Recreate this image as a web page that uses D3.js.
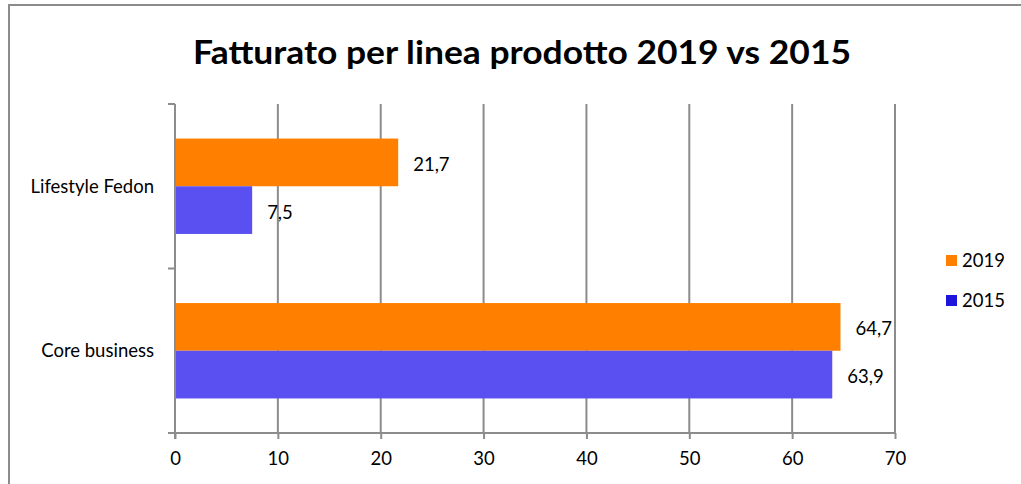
<!DOCTYPE html>
<html>
<head>
<meta charset="utf-8">
<script src="https://cdn.jsdelivr.net/npm/d3@7"></script>
<style>
  body { margin: 0; background: #fff; }
  svg { font-family: Lato, "Open Sans", sans-serif; }
</style>
</head>
<body>
<svg width="1021" height="484"></svg>
<script>
// data
var categories = ["Lifestyle Fedon", "Core business"];
var seriesNames = ["2019", "2015"];
var values2019 = [21.7, 64.7];
var values2015 = [7.5, 63.9];
var xTicks = [0, 10, 20, 30, 40, 50, 60, 70];

var barColors = { "2019": "#ff8000", "2015": "#5a50f2" };
var legendColors = { "2019": "#ff8000", "2015": "#1e14dc" };

var svg = d3.select("svg");
var fs = "18.5px";

// outer frame
svg.append("rect")
  .attr("x", 9).attr("y", 5)
  .attr("width", 1030).attr("height", 500)
  .attr("fill", "none").attr("stroke", "#8c8c8c").attr("stroke-width", 2);

// title
svg.append("text")
  .attr("x", 522).attr("y", 64)
  .attr("text-anchor", "middle")
  .attr("textLength", 658).attr("lengthAdjust", "spacingAndGlyphs")
  .style("font-size", "33px").style("font-weight", "bold")
  .text("Fatturato per linea prodotto 2019 vs 2015");

var plotLeft = 175, plotRight = 895, plotTop = 104, plotBottom = 433;

var x = d3.scaleLinear().domain([0, 70]).range([plotLeft, plotRight]);
var y = d3.scaleBand().domain(categories).range([plotTop, plotBottom])
  .paddingInner(0.42).paddingOuter(0.21);
var ySub = d3.scaleBand().domain(seriesNames).range([0, y.bandwidth()]);

var axisColor = "#8c8c8c";

// gridlines
svg.append("g").selectAll("line")
  .data(xTicks.slice(1))
  .join("line")
  .attr("x1", function(d) { return x(d); })
  .attr("x2", function(d) { return x(d); })
  .attr("y1", plotTop).attr("y2", plotBottom)
  .attr("stroke", axisColor).attr("stroke-width", 2);

// bars
var rows = categories.map(function(c, i) {
  return { cat: c, vals: [
    { s: "2019", v: values2019[i] },
    { s: "2015", v: values2015[i] }
  ] };
});

var g = svg.append("g").selectAll("g")
  .data(rows)
  .join("g")
  .attr("transform", function(d) { return "translate(0," + y(d.cat) + ")"; });

g.selectAll("rect")
  .data(function(d) { return d.vals; })
  .join("rect")
  .attr("x", x(0))
  .attr("y", function(d) { return ySub(d.s); })
  .attr("width", function(d) { return x(d.v) - x(0); })
  .attr("height", ySub.bandwidth())
  .attr("fill", function(d) { return barColors[d.s]; });

g.selectAll("text")
  .data(function(d) { return d.vals; })
  .join("text")
  .attr("x", function(d) { return x(d.v) + 15; })
  .attr("y", function(d) { return ySub(d.s) + ySub.bandwidth() / 2 + 2; })
  .attr("dy", "0.35em")
  .style("font-size", fs)
  .text(function(d) { return d3.format(".1f")(d.v).replace(".", ","); });

// category boundaries for the y axis ticks
var yTickPos = [plotTop, (y(categories[0]) + y.bandwidth() + y(categories[1])) / 2, plotBottom];

// y axis line + ticks
svg.append("line")
  .attr("x1", plotLeft).attr("x2", plotLeft)
  .attr("y1", plotTop).attr("y2", plotBottom + 6)
  .attr("stroke", axisColor).attr("stroke-width", 2);
svg.append("g").selectAll("line")
  .data(yTickPos)
  .join("line")
  .attr("x1", plotLeft - 7).attr("x2", plotLeft)
  .attr("y1", function(d) { return d; }).attr("y2", function(d) { return d; })
  .attr("stroke", axisColor).attr("stroke-width", 2);

svg.append("g").selectAll("text")
  .data(categories)
  .join("text")
  .attr("x", 154)
  .attr("y", function(d) { return y(d) + y.bandwidth() / 2; })
  .attr("dy", "0.35em")
  .attr("text-anchor", "end")
  .style("font-size", fs)
  .text(function(d) { return d; });

// x axis
var xAxis = d3.axisBottom(x).tickValues(xTicks).tickSize(6).tickPadding(13)
  .tickFormat(d3.format("d"));
var gX = svg.append("g")
  .attr("transform", "translate(0," + plotBottom + ")")
  .call(xAxis);
gX.select(".domain").attr("stroke", axisColor).attr("stroke-width", 2)
  .attr("d", "M" + (plotLeft - 7) + ",0H" + plotRight);
gX.selectAll(".tick line").attr("stroke", axisColor).attr("stroke-width", 2);
gX.selectAll(".tick text")
  .style("font-size", fs)
  .style("font-family", "Lato, 'Open Sans', sans-serif")
  .attr("fill", "#000");

// legend
var leg = svg.append("g").selectAll("g")
  .data(seriesNames)
  .join("g")
  .attr("transform", function(d, i) { return "translate(946," + (255 + i * 40) + ")"; });
leg.append("rect")
  .attr("width", 11).attr("height", 11)
  .attr("fill", function(d) { return legendColors[d]; });
leg.append("text")
  .attr("x", 16).attr("y", 6).attr("dy", "0.35em")
  .style("font-size", fs)
  .text(function(d) { return d; });
</script>
</body>
</html>
